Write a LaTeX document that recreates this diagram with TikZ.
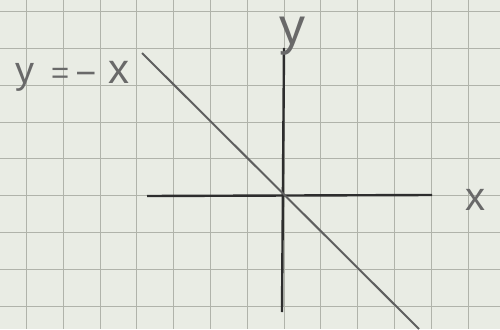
\documentclass[tikz,border=0pt]{standalone}
\usepackage{fontspec}
\setmainfont{Liberation Sans}
\definecolor{paper}{RGB}{233,236,228}
\definecolor{gridc}{RGB}{176,179,170}
\definecolor{ink}{RGB}{45,45,45}
\definecolor{pencil}{RGB}{95,95,95}
\definecolor{lettering}{RGB}{105,105,105}
\begin{document}
\begin{tikzpicture}[x=1pt,y=-1pt,
  gridline/.style={gridc,line width=0.9pt},
  axis/.style={ink,line width=2.4pt},
  graphline/.style={pencil,line width=2pt},
  hand/.style={text=lettering,inner sep=0pt}]
\fill[paper] (0,0) rectangle (500,329);
\useasboundingbox (0,0) rectangle (500,329);
% grid
\foreach \i in {0,...,13} {
  \draw[gridline] ({26.5+36.8*\i},0) -- ({26.5+36.8*\i},329);
}
\foreach \j in {0,...,8} {
  \draw[gridline] (0,{11.5+36.85*\j}) -- (500,{11.5+36.85*\j});
}
% axes
\coordinate (xl) at (147,196);
\coordinate (xr) at (432,195);
\coordinate (yt) at (284,48);
\coordinate (yb) at (282,312);
\draw[axis] (xl) -- (xr);
\draw[axis] (yt) -- (yb);
% line y=-x
\coordinate (ls) at (142,53);
\coordinate (le) at (419,329);
\draw[graphline] (ls) -- (le);
% labels
\node[hand,anchor=center,font=\fontsize{52}{52}\selectfont] (ylab) at (292,36) {y};
\node[hand,anchor=center,font=\fontsize{40}{40}\selectfont] (xlab) at (475,200) {x};
\node[hand,anchor=base west] (eqlab) at (15,83)
  {{\fontsize{38}{38}\selectfont y}\hspace{17pt}{\fontsize{31}{31}\selectfont =}\hspace{6pt}\raisebox{-2pt}{\fontsize{36}{36}\selectfont −}\hspace{12pt}{\fontsize{42}{42}\selectfont x}};
\end{tikzpicture}
\end{document}
